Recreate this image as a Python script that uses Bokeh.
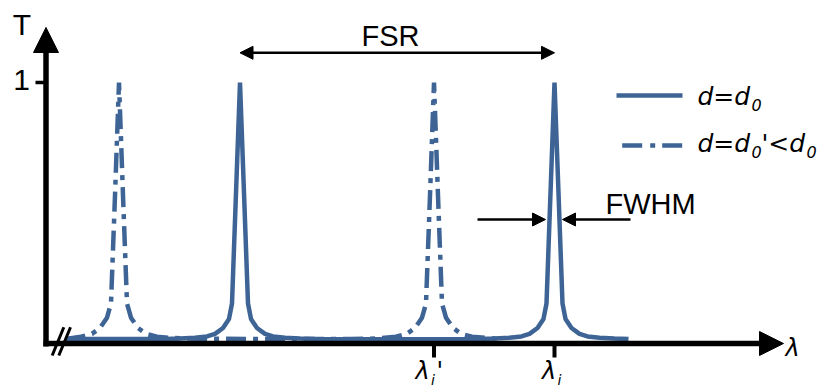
from bokeh.plotting import figure
from bokeh.models import Range1d, Arrow, NormalHead, Label
from bokeh.embed import file_html
from bokeh.resources import INLINE

# ---------------- data ----------------
# wavelength axis in arbitrary units, transmission T in 0..1
solid_lambda = [65, 120, 164.5, 179.5, 194.5, 206.5, 214.5, 222.5, 228.5, 231.5,
                235.5, 239.5, 243.5, 247.5, 250.5, 256.5, 264.5, 272.5, 284.5, 299.5,
                314.5, 397, 480, 494, 509, 521, 529, 537, 543, 546,
                550, 554, 558, 562, 565, 571, 579, 587, 599, 614, 628]
solid_T = [0.002, 0.002, 0.002, 0.004, 0.007, 0.012, 0.022, 0.045, 0.08, 0.14,
           0.57, 1.0, 0.57, 0.14, 0.08, 0.045, 0.022, 0.012, 0.007, 0.004,
           0.002, 0.001, 0.002, 0.004, 0.007, 0.012, 0.022, 0.045, 0.08, 0.14,
           0.57, 1.0, 0.57, 0.14, 0.08, 0.045, 0.022, 0.012, 0.007, 0.004, 0.002]

dd_lambda = [65, 80.5, 91.5, 99.5, 106.5, 110.5, 114.5, 118.5, 122.5, 126.5,
             130.5, 137.5, 145.5, 156.5, 170.5, 200, 260, 320, 350, 369.5,
             381.5, 395.5, 406.5, 414.5, 421.5, 425.5, 429.5, 433.5, 437.5, 441.5,
             445.5, 452.5, 460.5, 471.5, 485.5, 497]
dd_T = [0.002, 0.011, 0.022, 0.045, 0.085, 0.14, 0.56, 1.0, 0.56, 0.14,
        0.085, 0.045, 0.022, 0.011, 0.006, 0.003, 0.002, 0.002, 0.002, 0.003,
        0.006, 0.011, 0.022, 0.045, 0.085, 0.14, 0.56, 1.0, 0.56, 0.14,
        0.085, 0.045, 0.022, 0.011, 0.006, 0.003]

peaks_solid = [239.5, 554]      # lambda of solid peaks (FSR between them)
peak_dd = 433.5                 # lambda_i'
y_tick_values = [1]
y_tick_labels = ["1"]
legend_labels = ["d=d", "d=d"]

# ---------------- layout / style ----------------
W, H = 819, 387
PX0, PXK = 339.0, 257.0          # pixel row of T=0, pixels per unit T


def ty(px):
    return (PX0 - px) / PXK


BLUE = "#3e6496"
DASH = "20 7 5 7"
SANS = "Liberation Sans"
ITAL = "DejaVu Sans"

p = figure(width=W, height=H, output_backend="svg", toolbar_location=None,
           x_range=Range1d(0, W), y_range=Range1d(ty(H), ty(0)),
           x_axis_type=None, y_axis_type=None, min_border=0)
p.outline_line_color = None
p.background_fill_color = "white"
p.border_fill_color = "white"


def label(x, ypx, text, size, font=SANS, italic=False, align="left"):
    p.add_layout(Label(x=x, y=ty(ypx), text=text, text_font=font,
                       text_font_style="italic" if italic else "normal",
                       text_font_size=f"{size}px", text_align=align,
                       text_baseline="middle", text_color="black"))


# curves
p.line(solid_lambda, solid_T, line_color=BLUE, line_width=4.5, line_join="bevel")
p.line(dd_lambda, dd_T, line_color=BLUE, line_width=4.5, line_dash=DASH, line_join="bevel")

# axes with arrow heads
x_axis_T = ty(343)
p.add_layout(Arrow(x_start=45.5, y_start=ty(346), x_end=45.5, y_end=ty(27),
                   line_width=5.5, line_color="black",
                   end=NormalHead(size=25, fill_color="black", line_color="black", line_width=1)))
p.add_layout(Arrow(x_start=43, y_start=x_axis_T, x_end=783, y_end=x_axis_T,
                   line_width=5.5, line_color="black",
                   end=NormalHead(size=24, fill_color="black", line_color="black", line_width=1)))

# y tick "1"
p.segment(x0=[35] * len(y_tick_values), y0=y_tick_values,
          x1=[45.5] * len(y_tick_values), y1=y_tick_values,
          line_color="black", line_width=3.5)
for v, t in zip(y_tick_values, y_tick_labels):
    label(21, PX0 - v * PXK - 3, t, 30, align="center")
label(21.5, 24, "T", 30, align="center")

# x ticks at lambda_i' and lambda_i
xt = [peak_dd, peaks_solid[1]]
p.segment(x0=xt, y0=[x_axis_T] * 2, x1=xt, y1=[ty(357)] * 2,
          line_color="black", line_width=4)

# axis break marks
p.segment(x0=[51.7, 58.3], y0=[ty(355)] * 2, x1=[63.3, 70], y1=[ty(326.7)] * 2,
          line_color="black", line_width=3)

# lambda labels
label(785, 347, "λ", 24, ITAL, True)
label(peak_dd - 18.5, 370.5, "λ", 24, ITAL, True)
label(peak_dd - 3, 379.5, "i", 14, ITAL, True)
label(peak_dd + 2.5, 370.5, "'", 24, ITAL, True)
label(peaks_solid[1] - 12.5, 370.5, "λ", 24, ITAL, True)
label(peaks_solid[1] + 3, 379.5, "i", 14, ITAL, True)

# FSR double arrow
fsr_y = ty(52.3)
p.add_layout(Arrow(x_start=peaks_solid[0], y_start=fsr_y, x_end=peaks_solid[1], y_end=fsr_y,
                   line_width=2.5, line_color="black",
                   start=NormalHead(size=13, fill_color="black", line_color="black", line_width=1),
                   end=NormalHead(size=13, fill_color="black", line_color="black", line_width=1)))
label(390, 35, "FSR", 29, align="center")

# FWHM arrows
fw_y = ty(219)
p.add_layout(Arrow(x_start=477, y_start=fw_y, x_end=545, y_end=fw_y,
                   line_width=2.5, line_color="black",
                   end=NormalHead(size=13, fill_color="black", line_color="black", line_width=1)))
p.add_layout(Arrow(x_start=630, y_start=fw_y, x_end=562, y_end=fw_y,
                   line_width=2.5, line_color="black",
                   end=NormalHead(size=13, fill_color="black", line_color="black", line_width=1)))
label(605, 203, "FWHM", 29)

# legend
p.line([616, 682], [ty(95)] * 2, line_color=BLUE, line_width=4.3)
p.line([621.7, 681.7], [ty(145)] * 2, line_color=BLUE, line_width=4.3, line_dash="20 8 5 7")

for mid, lab in zip([96, 143], legend_labels):
    label(697, mid, lab, 25, ITAL, True)
    label(751, mid + 8.5, "0", 16, ITAL, True)
label(761, 143, "'<d", 25, ITAL, True)
label(806, 151.5, "0", 16, ITAL, True)

open("out.html", "w").write(file_html(p, INLINE))
